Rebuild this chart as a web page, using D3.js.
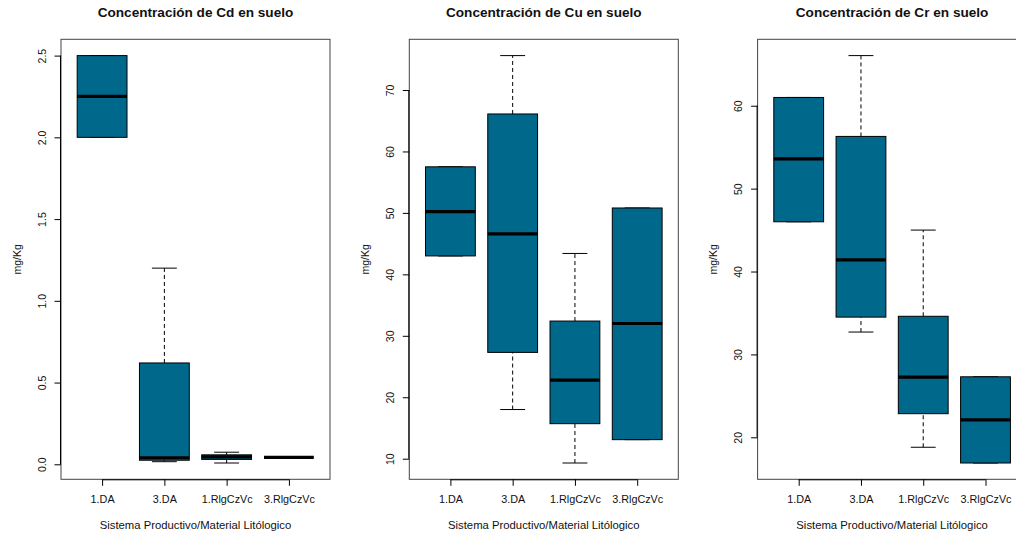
<!DOCTYPE html>
<html>
<head>
<meta charset="utf-8">
<script src="https://cdn.jsdelivr.net/npm/d3@7"></script>
<style>
  html, body { margin: 0; padding: 0; background: #ffffff; }
  svg { display: block; font-family: "Liberation Sans", Arial, Helvetica, sans-serif; }
</style>
</head>
<body>
<svg id="chart" width="1016" height="535"></svg>
<script>
// Grupos: sistema productivo / material litológico
const categories = ["1.DA", "3.DA", "1.RlgCzVc", "3.RlgCzVc"];

// Estadísticos de caja por grupo: [bigote inferior, Q1, mediana, Q3, bigote superior] (mg/Kg)
const cdStats = [
  [2.0, 2.0, 2.25, 2.5, 2.5],
  [0.016, 0.025, 0.04, 0.62, 1.2],
  [0.008, 0.03, 0.045, 0.058, 0.074],
  [0.042, 0.042, 0.042, 0.042, 0.042]
];
const cuStats = [
  [43.0, 43.0, 50.2, 57.5, 57.5],
  [18.0, 27.3, 46.6, 66.1, 75.6],
  [9.3, 15.7, 22.8, 32.4, 43.4],
  [13.1, 13.1, 32.0, 50.8, 50.8]
];
const crStats = [
  [46.0, 46.0, 53.6, 61.0, 61.0],
  [32.7, 34.5, 41.4, 56.3, 66.05],
  [18.8, 22.85, 27.25, 34.6, 45.0],
  [16.9, 16.9, 22.1, 27.3, 27.3]
];

// Marcas del eje Y
const cdTicks = [0.0, 0.5, 1.0, 1.5, 2.0, 2.5];
const cuTicks = [10, 20, 30, 40, 50, 60, 70];
const crTicks = [20, 30, 40, 50, 60];

const titles = [
  "Concentración de Cd en suelo",
  "Concentración de Cu en suelo",
  "Concentración de Cr en suelo"
];
const yLabel = "mg/Kg";
const xLabel = "Sistema Productivo/Material Litólogico";

const panels = [
  { title: titles[0], stats: cdStats, ticks: cdTicks, fmt: d3.format(".1f") },
  { title: titles[1], stats: cuStats, ticks: cuTicks, fmt: d3.format("d") },
  { title: titles[2], stats: crStats, ticks: crTicks, fmt: d3.format("d") }
];

// Geometría de cada panel
const panelW = 348.3;
const marginLeft = 61;
const plotW = 269;
const plotTop = 39.3;
const plotBottom = 479.3;
const boxFill = "#00688B";
const boxHalf = 0.4;     // media anchura de la caja (unidades de x)
const stapleHalf = 0.2;  // media anchura de los topes

const svg = d3.select("#chart");

panels.forEach((p, i) => {
  const left = i * panelW + marginLeft;
  const g = svg.append("g").attr("transform", `translate(${left},0)`);

  // Eje x: posiciones 1..n, con 4% de holgura sobre [0.5, n + 0.5]
  const n = categories.length;
  const x = d3.scaleLinear()
    .domain([0.5 - 0.04 * n, n + 0.5 + 0.04 * n])
    .range([0, plotW]);

  // Eje y: extremos de los datos con 4% de holgura
  const lo = d3.min(p.stats, s => s[0]);
  const hi = d3.max(p.stats, s => s[4]);
  const pad = (hi - lo) * 0.04;
  const y = d3.scaleLinear()
    .domain([lo - pad, hi + pad])
    .range([plotBottom, plotTop]);

  // Cajas
  const groups = g.selectAll("g.box")
    .data(p.stats)
    .join("g")
    .attr("class", "box");

  // Bigotes (línea discontinua)
  groups.append("line")
    .attr("x1", (d, j) => x(j + 1)).attr("x2", (d, j) => x(j + 1))
    .attr("y1", d => y(d[3])).attr("y2", d => y(d[4]))
    .attr("stroke", "#000").attr("stroke-width", 1)
    .attr("stroke-dasharray", "4,3");
  groups.append("line")
    .attr("x1", (d, j) => x(j + 1)).attr("x2", (d, j) => x(j + 1))
    .attr("y1", d => y(d[0])).attr("y2", d => y(d[1]))
    .attr("stroke", "#000").attr("stroke-width", 1)
    .attr("stroke-dasharray", "4,3");

  // Topes
  [0, 4].forEach(k => {
    groups.append("line")
      .attr("x1", (d, j) => x(j + 1 - stapleHalf))
      .attr("x2", (d, j) => x(j + 1 + stapleHalf))
      .attr("y1", d => y(d[k])).attr("y2", d => y(d[k]))
      .attr("stroke", "#000").attr("stroke-width", 1);
  });

  // Rectángulo Q1–Q3
  groups.append("rect")
    .attr("x", (d, j) => x(j + 1 - boxHalf))
    .attr("width", (d, j) => x(j + 1 + boxHalf) - x(j + 1 - boxHalf))
    .attr("y", d => y(d[3]))
    .attr("height", d => Math.max(0, y(d[1]) - y(d[3])))
    .attr("fill", boxFill)
    .attr("stroke", "#000").attr("stroke-width", 1);

  // Mediana
  groups.append("line")
    .attr("x1", (d, j) => x(j + 1 - boxHalf))
    .attr("x2", (d, j) => x(j + 1 + boxHalf))
    .attr("y1", d => y(d[2])).attr("y2", d => y(d[2]))
    .attr("stroke", "#000").attr("stroke-width", 3.2);

  // Marco del gráfico
  g.append("rect")
    .attr("x", 0).attr("y", plotTop)
    .attr("width", plotW).attr("height", plotBottom - plotTop)
    .attr("fill", "none").attr("stroke", "#444").attr("stroke-width", 1);

  // Eje inferior
  const xAxis = g.append("g")
    .attr("transform", `translate(0,${plotBottom})`)
    .call(d3.axisBottom(x)
      .tickValues(d3.range(1, n + 1))
      .tickFormat(v => categories[v - 1])
      .tickSize(6.5).tickSizeOuter(0).tickPadding(10));
  xAxis.attr("font-family", null);
  xAxis.select(".domain").attr("d", `M${x(1)},0.5H${x(n)}`).attr("stroke", "#000");
  xAxis.selectAll("text").attr("font-size", 10.8).attr("fill", "#111");

  // Eje izquierdo
  const yAxis = g.append("g")
    .call(d3.axisLeft(y)
      .tickValues(p.ticks)
      .tickFormat(p.fmt)
      .tickSize(6.5).tickSizeOuter(0));
  yAxis.attr("font-family", null);
  yAxis.select(".domain")
    .attr("d", `M-0.5,${y(p.ticks[p.ticks.length - 1])}V${y(p.ticks[0])}`)
    .attr("stroke", "#000");
  yAxis.selectAll("text")
    .attr("font-size", 10.5).attr("fill", "#111")
    .attr("transform", "rotate(-90)")
    .attr("text-anchor", "middle")
    .attr("x", 0).attr("y", -15.2).attr("dy", null);

  // Título
  g.append("text")
    .attr("x", plotW / 2).attr("y", 17)
    .attr("text-anchor", "middle")
    .attr("font-size", 13.6).attr("font-weight", "bold")
    .attr("fill", "#111")
    .text(p.title);

  // Etiqueta del eje y
  g.append("text")
    .attr("transform", `translate(-40.5,${(plotTop + plotBottom) / 2}) rotate(-90)`)
    .attr("text-anchor", "middle")
    .attr("font-size", 10.5).attr("fill", "#111")
    .text(yLabel);

  // Etiqueta del eje x
  g.append("text")
    .attr("x", plotW / 2).attr("y", 528.5)
    .attr("text-anchor", "middle")
    .attr("font-size", 11.3).attr("fill", "#111")
    .text(xLabel);
});
</script>
</body>
</html>
